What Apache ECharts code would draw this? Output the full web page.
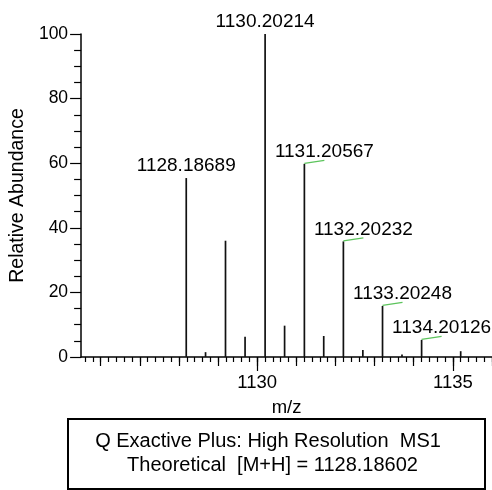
<!DOCTYPE html>
<html>
<head>
<meta charset="utf-8">
<script src="https://cdn.jsdelivr.net/npm/echarts@6/dist/echarts.min.js"></script>
<style>
  html, body { margin: 0; padding: 0; background: #fff; }
  #chart { width: 492px; height: 490px; }
</style>
</head>
<body>
<div id="chart"></div>
<script>
// Isotope cluster of the [M+H]+ ion, centroid m/z and relative abundance (%)
const mzValues = [1128.18689, 1128.68, 1129.19, 1129.69, 1130.20214, 1130.70, 1131.20567,
                  1131.70, 1132.20232, 1132.70, 1133.20248, 1133.70, 1134.20126, 1135.20];
const abundance = [55.4, 1.5, 36.0, 6.3, 100, 9.7, 59.8, 6.5, 35.8, 2.2, 15.8, 0.8, 5.3, 1.8];
const peakLabels = ['1128.18689', '', '', '', '1130.20214', '', '1131.20567',
                    '', '1132.20232', '', '1133.20248', '', '1134.20126', ''];

const xMin = 1125.5, xMax = 1136;
const xLabelValues = [1130, 1135];
const yTickValues = [0, 20, 40, 60, 80, 100];
const infoLines = ['Q Exactive Plus: High Resolution  MS1', 'Theoretical  [M+H] = 1128.18602'];

const FONT = '"Liberation Sans", Arial, sans-serif';

// tick positions along m/z: every 0.2, every 1
const minorTicks = [];
for (let i = Math.ceil(xMin * 5); i <= Math.floor(xMax * 5); i++) minorTicks.push(i / 5);
const unitTicks = [];
for (let v = Math.ceil(xMin); v <= Math.floor(xMax); v++) unitTicks.push(v);

const data = mzValues.map((m, i) => [m, abundance[i]]);
const basePeak = mzValues[abundance.indexOf(Math.max(...abundance))];

function renderPeak(params, api) {
  const x = api.value(0), y = api.value(1);
  const top = api.coord([x, y]);
  const base = api.coord([x, 0]);
  const children = [{
    type: 'line',
    shape: { x1: top[0], y1: base[1], x2: top[0], y2: top[1] },
    style: { stroke: '#111', lineWidth: 1.7 }
  }];
  const label = peakLabels[params.dataIndex];
  if (label) {
    // peaks above the base peak carry a short green leader to the label
    const leader = x > basePeak + 0.5;
    const tx = leader ? top[0] + 20 : top[0];
    const ty = top[1] - 12;
    if (leader) {
      children.push({
        type: 'polyline',
        shape: { points: [[top[0], top[1] - 0.5], [top[0] + 20, top[1] - 3.5]] },
        style: { stroke: '#5cc45c', lineWidth: 1.3, fill: null }
      });
    }
    children.push({
      type: 'text',
      style: { text: label, x: tx, y: ty, fill: '#000', font: '19px ' + FONT,
               align: 'center', verticalAlign: 'middle' }
    });
  }
  return { type: 'group', children };
}

const baseX = {
  type: 'value', min: xMin, max: xMax, position: 'bottom', gridIndex: 0,
  splitLine: { show: false }, axisLine: { show: false },
  axisLabel: { show: false }, axisTick: { show: false }
};

const chart = echarts.init(document.getElementById('chart'), null, { renderer: 'canvas' });
chart.setOption({
  animation: false,
  backgroundColor: '#fff',
  grid: { left: 78, right: 0, top: 34, bottom: 133, containLabel: false },
  xAxis: [
    Object.assign({}, baseX, {
      axisLine: { show: true, onZero: false, lineStyle: { color: '#000', width: 1.5 } },
      axisTick: { show: true, customValues: minorTicks, length: 5, lineStyle: { color: '#000', width: 1.2 } },
      name: 'm/z', nameLocation: 'middle', nameGap: 41,
      nameTextStyle: { fontFamily: FONT, fontSize: 18.5, color: '#000' }
    }),
    Object.assign({}, baseX, {
      axisTick: { show: true, customValues: unitTicks, length: 9, lineStyle: { color: '#000', width: 1.2 } }
    }),
    Object.assign({}, baseX, {
      axisTick: { show: true, customValues: xLabelValues, length: 14, lineStyle: { color: '#000', width: 1.2 } },
      axisLabel: { show: true, customValues: xLabelValues, margin: 16,
                   formatter: (v) => String(v),
                   fontFamily: FONT, fontSize: 18.5, color: '#000' }
    })
  ],
  yAxis: {
    type: 'value', min: 0, max: 100, interval: 20,
    splitLine: { show: false },
    axisLine: { show: true, lineStyle: { color: '#000', width: 1.5 } },
    axisTick: { show: true, length: 11, lineStyle: { color: '#000', width: 1.2 } },
    minorTick: { show: true, splitNumber: 4, length: 7, lineStyle: { color: '#000', width: 1.2 } },
    axisLabel: { margin: 13, fontFamily: FONT, fontSize: 17.5, color: '#000',
                 customValues: yTickValues },
    name: 'Relative Abundance', nameLocation: 'middle', nameGap: 47, nameRotate: 90,
    nameTextStyle: { fontFamily: FONT, fontSize: 19.5, color: '#000' }
  },
  series: [{
    type: 'custom',
    xAxisIndex: 0,
    clip: false,
    renderItem: renderPeak,
    encode: { x: 0, y: 1 },
    data: data,
    z: 5
  }],
  graphic: [
    {
      type: 'rect', left: 67, top: 418, z: 10,
      shape: { width: 417, height: 70 },
      style: { fill: '#fff', stroke: '#000', lineWidth: 2 }
    },
    {
      type: 'text', x: 268, y: 441, z: 11,
      style: { text: infoLines[0], font: '20px ' + FONT, fill: '#000', align: 'center', verticalAlign: 'middle' }
    },
    {
      type: 'text', x: 272.5, y: 465, z: 11,
      style: { text: infoLines[1], font: '20px ' + FONT, fill: '#000', align: 'center', verticalAlign: 'middle' }
    }
  ]
});
</script>
</body>
</html>
